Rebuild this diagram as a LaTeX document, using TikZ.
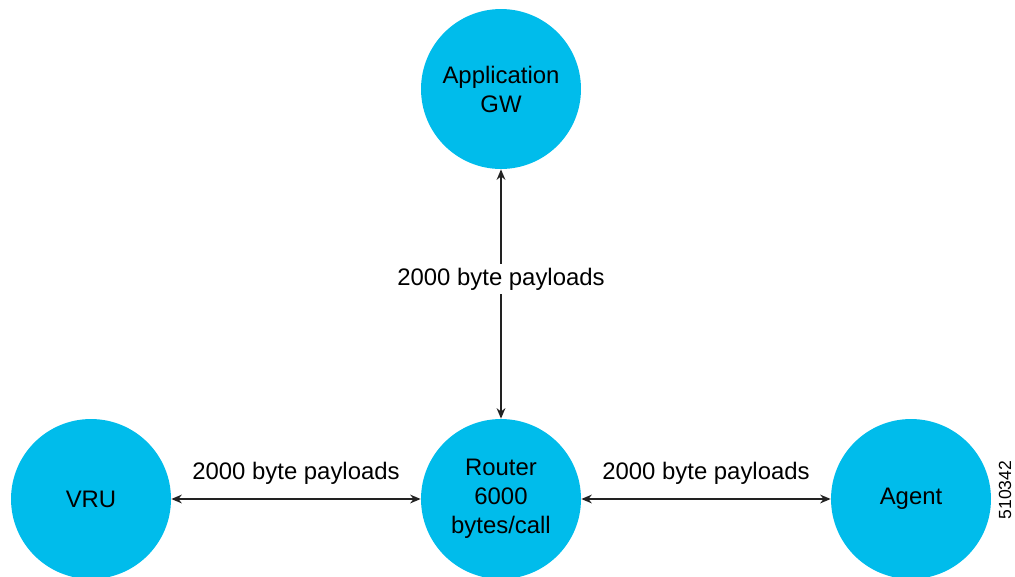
\documentclass[tikz,border=0pt]{standalone}
\usepackage{fontspec}
\setmainfont{Liberation Sans}
\usepackage{tikz}
\usetikzlibrary{arrows.meta,positioning}
\definecolor{hubfill}{HTML}{00BCEB}
\definecolor{linec}{HTML}{222222}
\tikzset{
  hub/.style={circle, fill=hubfill, minimum size=3.2cm, inner sep=0pt, align=center,
              font=\fontsize{13.6}{16.5}\selectfont},
  flow/.style={{Stealth[length=6pt,width=5pt]}-{Stealth[length=6pt,width=5pt]}, line width=0.8pt, draw=linec},
  payload/.style={font=\fontsize{13.6}{16.5}\selectfont, inner sep=2pt},
  figid/.style={font=\fontsize{10}{12}\selectfont, rotate=90},
}
\begin{document}
\begin{tikzpicture}[x=0.02cm, y=-0.02cm]
  \useasboundingbox (0,0) rectangle (1015,576);
  \node[hub] (appgw) at (501,89) {Application\\GW};
  \node[hub] (vru) at (91,499) {VRU};
  \node[hub] (router) at (501,499) {Router\\6000\\bytes/call};
  \node[hub] (agent) at (911,499) {Agent};
  \draw[flow] (appgw) -- node[payload, fill=white, pos=0.44] (lblup) {2000 byte payloads} (router);
  \draw[flow] (vru) -- node[payload, above=6pt] (lblleft) {2000 byte payloads} (router);
  \draw[flow] (router) -- node[payload, above=6pt] (lblright) {2000 byte payloads} (agent);
  \node[figid] (figno) at (1005,490) {510342};
\end{tikzpicture}
\end{document}
